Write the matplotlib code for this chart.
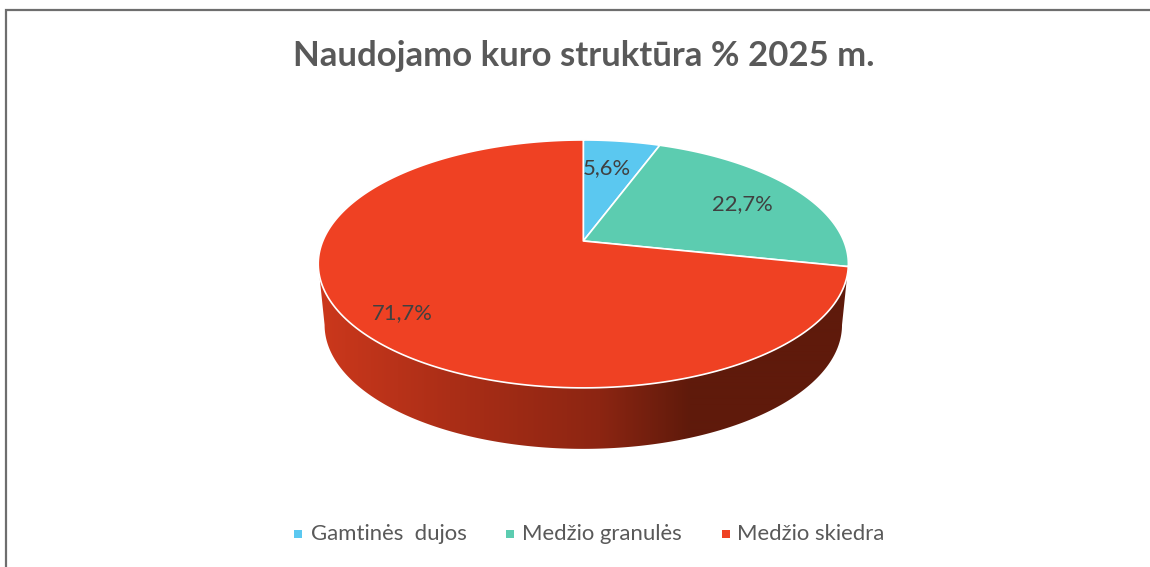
import matplotlib
matplotlib.use("Agg")
import matplotlib.pyplot as plt
import numpy as np
from matplotlib.patches import Polygon

TITLE = "Naudojamo kuro struktūra % 2025 m."
categories = ["Gamtinės  dujos", "Medžio granulės", "Medžio skiedra"]
shares = [5.6, 22.7, 71.7]
share_labels = ["5,6%", "22,7%", "71,7%"]

colors = ["#5BC8F0", "#5CCCB0", "#EF4123"]
label_xy = [(607, 168), (742, 204), (402, 313)]
legend_square_x = [298, 510, 726]
legend_text_x = [311, 522, 737]

# pie sits tilted, so the rim comes from a perspective mapping of the circle
APEX = (583.3, 241.0)
RX, RY, TILT = 260.5, 119.7, 0.185
WALL_DROP = 61.0
WALL_SHRINK = 0.976

plt.rcParams["font.family"] = ["Lato", "Open Sans", "DejaVu Sans"]


def rim(theta):
    # theta clockwise from 12 o'clock, in radians
    d = 1 + TILT * np.cos(theta)
    return APEX[0] + RX * np.sin(theta) / d, APEX[1] - RY * np.cos(theta) / d


fig = plt.figure(figsize=(11.5, 5.67), dpi=100)
ax = fig.add_axes([0, 0, 1, 1])
ax.set_xlim(0, 1150)
ax.set_ylim(567, 0)
ax.axis("off")

# side wall with the horizontal shading, from widest point to widest point
widest = np.arccos(-TILT)
t = np.linspace(widest, 2 * np.pi - widest, 240)
xt, yt = rim(t)
xb = APEX[0] + (xt - APEX[0]) * WALL_SHRINK
yb = yt + WALL_DROP
wall = Polygon(np.r_[np.c_[xt, yt], np.c_[xb, yb][::-1]], closed=True, fc="none", ec="none")
ax.add_patch(wall)
stops_x = [318, 450, 600, 690, 850]
stops_rgb = np.array([[0xCC, 0x38, 0x1C], [0xAB, 0x2E, 0x17], [0x8C, 0x25, 0x12], [0x5F, 0x1A, 0x0B], [0x5F, 0x1A, 0x0B]]) / 255
grad_x = np.arange(318, 850)
grad = np.stack([np.interp(grad_x, stops_x, stops_rgb[:, i]) for i in range(3)], axis=-1)[None, :, :]
im = ax.imshow(grad, extent=(318, 850, 460, 260), aspect="auto", interpolation="bilinear", zorder=1)
im.set_clip_path(wall)
ax.set_xlim(0, 1150)
ax.set_ylim(567, 0)

# top face
edges = np.cumsum([0] + shares) / sum(shares) * 2 * np.pi
for i, share in enumerate(shares):
    a = np.linspace(edges[i], edges[i + 1], 200)
    x, y = rim(a)
    pts = np.r_[[APEX], np.c_[x, y]]
    ax.add_patch(Polygon(pts, closed=True, fc=colors[i], ec="white", lw=1.2, joinstyle="round", zorder=2))
    ax.text(*label_xy[i], share_labels[i], ha="center", va="center", fontsize=15.8, color="#404040", zorder=3)

ax.text(583.5, 56, TITLE, ha="center", va="center", fontsize=25, fontweight="bold", color="#595959")

for i, name in enumerate(categories):
    ax.scatter(legend_square_x[i], 534, marker="s", s=36, color=colors[i], linewidths=0)
    ax.text(legend_text_x[i], 534, name, ha="left", va="center", fontsize=15.9, color="#595959")

# chart frame, only top and left are inside the crop
ax.plot([6, 6, 1150], [567, 10, 10], color="#6E6E6E", lw=1.6, solid_joinstyle="miter")

fig.savefig("out.png", dpi=100)
